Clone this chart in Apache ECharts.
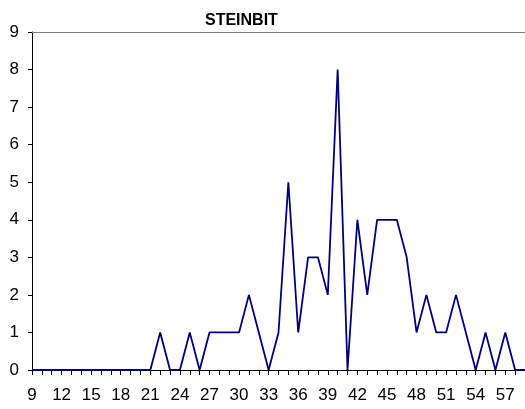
<!DOCTYPE html>
<html>
<head>
<meta charset="utf-8">
<script src="https://cdn.jsdelivr.net/npm/echarts@6/dist/echarts.min.js"></script>
<style>
  html, body { margin: 0; padding: 0; background: #fff; }
  #chart { width: 525px; height: 409px; }
</style>
</head>
<body>
<div id="chart"></div>
<script>
// lengde (cm) 9..59
const lengths = []
for (let l = 9; l <= 59; l++) lengths.push(String(l))

// antall fisk per lengde
const counts = [
  0, 0, 0, 0, 0, 0, 0, 0, 0, 0, 0, 0, 0,   // 9-21
  1, 0, 0, 1, 0, 1, 1, 1, 1, 2, 1, 0, 1,   // 22-34
  5, 1, 3, 3, 2, 8, 0, 4, 2, 4, 4, 4, 3,   // 35-47
  1, 2, 1, 1, 2, 1, 0, 1, 0, 1, 0, 0       // 48-59
]

const yTicks = [0, 1, 2, 3, 4, 5, 6, 7, 8, 9]

const font = 'Liberation Sans, Arial, sans-serif'
const chart = echarts.init(document.getElementById('chart'))

chart.setOption({
  animation: false,
  backgroundColor: '#ffffff',
  title: {
    text: 'STEINBIT',
    left: 200,
    top: 8,
    textStyle: { fontFamily: font, fontSize: 16, fontWeight: 'bold', color: '#000' }
  },
  grid: { left: 32, top: 32, bottom: 39, width: 494.5 },
  xAxis: [
    {
      type: 'category',
      data: lengths,
      boundaryGap: false,
      axisLine: { lineStyle: { color: '#000', width: 1 } },
      axisTick: { interval: 0, length: 5, lineStyle: { color: '#000' } },
      axisLabel: {
        interval: 2,
        margin: 17,
        fontFamily: font,
        fontSize: 17,
        color: '#000'
      },
      splitLine: { show: false }
    },
    {
      type: 'category',
      data: lengths,
      position: 'top',
      boundaryGap: false,
      axisLine: { lineStyle: { color: '#808080', width: 1 } },
      axisTick: { show: false },
      axisLabel: { show: false }
    }
  ],
  yAxis: {
    type: 'value',
    min: yTicks[0],
    max: yTicks[yTicks.length - 1],
    interval: 1,
    axisLine: { show: true, lineStyle: { color: '#000', width: 1 } },
    axisTick: { show: true, length: 4, lineStyle: { color: '#000' } },
    axisLabel: { margin: 13, fontFamily: font, fontSize: 17, color: '#000' },
    splitLine: { show: false }
  },
  series: [
    {
      type: 'line',
      data: counts,
      showSymbol: false,
      lineStyle: { color: '#000080', width: 1.8 },
      z: 3
    }
  ]
})
</script>
</body>
</html>
